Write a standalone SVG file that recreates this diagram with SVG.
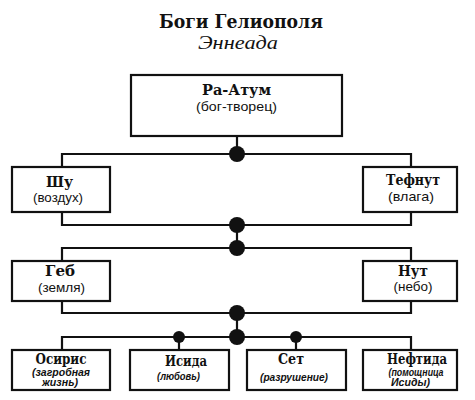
<svg xmlns="http://www.w3.org/2000/svg" width="475" height="400" viewBox="0 0 475 400">
<style>
.box{fill:#fff;stroke:#111;stroke-width:2.2}
.ln{fill:none;stroke:#111;stroke-width:2.2}
.dot{fill:#111}
.nm{font-family:"DejaVu Serif","Liberation Serif",serif;font-weight:bold;font-size:15px;fill:#111;text-anchor:middle}
.nb{font-family:"DejaVu Serif","Liberation Serif",serif;font-weight:bold;font-size:14px;fill:#111;text-anchor:middle}
.sb{font-family:"Liberation Sans",Arial,sans-serif;font-size:13px;fill:#111;text-anchor:middle}
.it{font-family:"Liberation Sans",Arial,sans-serif;font-style:italic;font-weight:bold;font-size:10.5px;fill:#111;text-anchor:middle}
.t1{font-family:"DejaVu Serif","Liberation Serif",serif;font-weight:bold;font-size:18px;fill:#111;text-anchor:middle}
.t2{font-family:"Liberation Serif","Times New Roman",serif;font-style:italic;font-size:19px;fill:#111;text-anchor:middle}
</style>
<rect width="475" height="400" fill="#fff"/>
<g id="title">
<text class="t1" x="241" y="28" textLength="164" lengthAdjust="spacingAndGlyphs">Боги Гелиополя</text>
<text class="t2" x="238" y="49" textLength="80" lengthAdjust="spacingAndGlyphs">Эннеада</text>
</g>
<g id="connectors">
<path class="ln" d="M237,136V154M62,167V154H411V167"/>
<path class="ln" d="M62,212V225H411V212M237,225V248M62,261V248H411V261"/>
<path class="ln" d="M62,301V313H411V301M237,313V337M62,350V337H411V350M179,337V350M296,337V350"/>
<circle class="dot" cx="237" cy="154" r="8"/>
<circle class="dot" cx="237" cy="225" r="8"/>
<circle class="dot" cx="237" cy="248" r="8"/>
<circle class="dot" cx="237" cy="313" r="8"/>
<circle class="dot" cx="237" cy="337" r="8"/>
<circle class="dot" cx="179" cy="337" r="6"/>
<circle class="dot" cx="296" cy="337" r="6"/>
</g>
<g id="ra-atum">
<rect class="box" x="131" y="75" width="211" height="61"/>
<text class="nm" x="236.5" y="94.5" textLength="69" lengthAdjust="spacingAndGlyphs">Ра-Атум</text>
<text class="sb" x="236.5" y="110.5" textLength="81" lengthAdjust="spacingAndGlyphs">(бог-творец)</text>
</g>
<g id="shu">
<rect class="box" x="12" y="167" width="98" height="45"/>
<text class="nm" x="59.5" y="187" textLength="27" lengthAdjust="spacingAndGlyphs">Шу</text>
<text class="sb" x="58" y="202" textLength="50" lengthAdjust="spacingAndGlyphs">(воздух)</text>
</g>
<g id="tefnut">
<rect class="box" x="363" y="167" width="94" height="45"/>
<text class="nm" x="413" y="185" textLength="54" lengthAdjust="spacingAndGlyphs">Тефнут</text>
<text class="sb" x="411" y="201" textLength="46" lengthAdjust="spacingAndGlyphs">(влага)</text>
</g>
<g id="geb">
<rect class="box" x="12" y="261" width="98" height="40"/>
<text class="nm" x="60" y="276" textLength="30" lengthAdjust="spacingAndGlyphs">Геб</text>
<text class="sb" x="61.5" y="292" textLength="47" lengthAdjust="spacingAndGlyphs">(земля)</text>
</g>
<g id="nut">
<rect class="box" x="363" y="261" width="94" height="40"/>
<text class="nm" x="413" y="276" textLength="30" lengthAdjust="spacingAndGlyphs">Нут</text>
<text class="sb" x="413" y="291" textLength="39" lengthAdjust="spacingAndGlyphs">(небо)</text>
</g>
<g id="osiris">
<rect class="box" x="12" y="350" width="98" height="40"/>
<text class="nb" x="61" y="363.5" textLength="51" lengthAdjust="spacingAndGlyphs">Осирис</text>
<text class="it" x="61" y="375.5" textLength="58" lengthAdjust="spacingAndGlyphs">(загробная</text>
<text class="it" x="60" y="386" textLength="36" lengthAdjust="spacingAndGlyphs">жизнь)</text>
</g>
<g id="isida">
<rect class="box" x="130" y="350" width="99" height="40"/>
<text class="nb" x="186" y="366" textLength="42" lengthAdjust="spacingAndGlyphs">Исида</text>
<text class="it" x="178.5" y="380" textLength="43" lengthAdjust="spacingAndGlyphs">(любовь)</text>
</g>
<g id="set">
<rect class="box" x="247" y="350" width="99" height="40"/>
<text class="nb" x="291" y="364" textLength="26" lengthAdjust="spacingAndGlyphs">Сет</text>
<text class="it" x="294" y="381" textLength="68" lengthAdjust="spacingAndGlyphs">(разрушение)</text>
</g>
<g id="nephthys">
<rect class="box" x="363" y="350" width="94" height="40"/>
<text class="nb" x="417" y="363.5" textLength="60" lengthAdjust="spacingAndGlyphs">Нефтида</text>
<text class="it" x="416" y="375.5" textLength="55" lengthAdjust="spacingAndGlyphs">(помощница</text>
<text class="it" x="410.5" y="386" textLength="39" lengthAdjust="spacingAndGlyphs">Исиды)</text>
</g>
</svg>
